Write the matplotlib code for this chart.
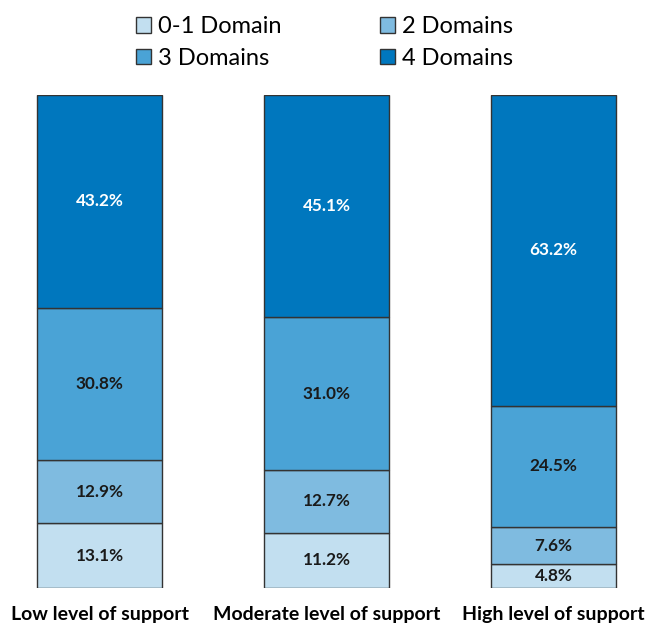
import matplotlib.pyplot as plt
from matplotlib.patches import Patch
import numpy as np

plt.rcParams['font.family'] = ['Lato', 'DejaVu Sans']

groups = ["Low level of support", "Moderate level of support", "High level of support"]
series = ["0-1 Domain", "2 Domains", "3 Domains", "4 Domains"]
d01 = [13.1, 11.2, 4.8]
d2 = [12.9, 12.7, 7.6]
d3 = [30.8, 31.0, 24.5]
d4 = [43.2, 45.1, 63.2]
colors = ["#c2dff0", "#7fbbe0", "#4aa3d6", "#0077be"]
text_colors = ["#1a1a1a", "#1a1a1a", "#1a1a1a", "white"]

fig = plt.figure(figsize=(6.49, 6.25), dpi=100)
ax = fig.add_axes([0, 1 - 588 / 625, 1, (588 - 95) / 625])

x = np.arange(len(groups))
bottom = np.zeros(len(groups))
for vals, c, tc in zip([d01, d2, d3, d4], colors, text_colors):
    vals = np.array(vals)
    ax.bar(x, vals, 0.55, bottom=bottom, color=c, edgecolor="#333333", linewidth=1)
    for xi, b, v in zip(x, bottom, vals):
        ax.text(xi, b + v / 2, f"{v:.1f}%", ha="center", va="center",
                fontsize=12.3, fontweight="bold", color=tc)
    bottom += vals

ax.set_xlim(-99.5 / 227, (649 - 99.5) / 227)
ax.set_ylim(0, 100)
ax.axis("off")
for xi, g in zip(x, groups):
    ax.text(xi, -5.3, g, ha="center", va="center", fontsize=14, fontweight="bold")

handles = [Patch(facecolor=c, edgecolor="#333333", linewidth=1) for c in colors]
# legend fills column-wise, reorder so rows read 0-1 / 2, then 3 / 4
order = [0, 2, 1, 3]
fig.legend([handles[i] for i in order], [series[i] for i in order],
           loc="upper center", bbox_to_anchor=(0.5, 1.008),
           ncol=2, frameon=False, fontsize=17, handlelength=0.65, handleheight=0.65,
           handletextpad=0.3, columnspacing=4.15, labelspacing=0.45)

fig.savefig("out.png", dpi=100)
